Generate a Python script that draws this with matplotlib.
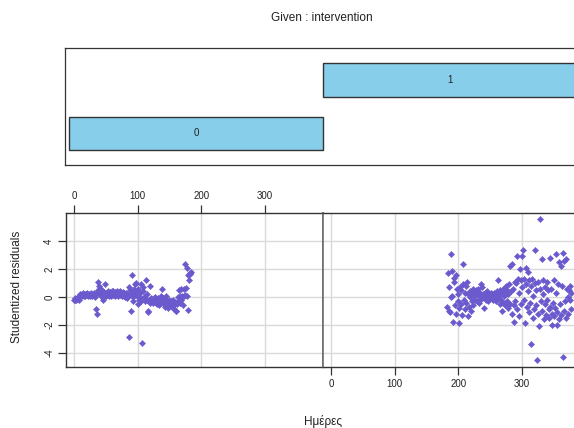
import numpy as np
import matplotlib.pyplot as plt
from matplotlib.patches import Rectangle

plt.rcParams['font.family'] = ['Liberation Sans', 'DejaVu Sans']

# residuals before the intervention (intervention = 0)
days_0 = list(range(0, 185))
resid_0 = [
    -0.2, -0.25, -0.1, -0.2, -0.05, -0.15, -0.1, 0.0, -0.2, 0.1, 0.2,
    0.15, 0.05, 0.2, 0.25, 0.1, 0.15, 0.2, 0.1, 0.2, 0.15, 0.25, 0.1, 0.2, 0.15,
    0.05, 0.2, 0.25, 0.15, 0.1, 0.2, 0.3, 0.15, 0.0, 0.2, -0.9, -1.2, 1.05, 0.5,
    0.8, 0.25, 0.4, 0.6, 0.1, 0.3, 0.0, -0.2, 0.35, 0.2, 0.95, 0.1, 0.3, 0.15,
    0.4, 0.2, 0.05, 0.35, 0.25, 0.1, 0.45, 0.3, 0.15, 0.4, 0.2, 0.35, 0.05, 0.3,
    0.45, 0.2, 0.1, 0.35, 0.25, 0.4, 0.15, 0.3, 0.05, 0.2, 0.35, 0.1, 0.25, 0.0,
    0.3, 0.15, -0.05, 0.2, 0.1, -2.9, 0.7, 0.5, 0.3, -1.0, 1.6, 0.0, -0.3, 0.6,
    0.2, 0.9, 1.0, 0.4, 0.1, -0.5, 0.6, -0.2, 0.3, 0.0, -0.3, 0.9, -3.3, 0.4,
    0.7, 0.0, -0.1, -0.3, 1.25, 0.2, -0.2, -1.0, -1.1, -0.2, -0.4, 0.8, -0.1,
    -0.3, -0.2, -0.4, -0.1, -0.3, -0.2, 0.0, -0.4, -0.2, -0.5, -0.1, -0.3, -0.6,
    -0.2, 0.1, -0.4, 0.6, -0.3, -0.1, -0.5, -0.2, -0.7, -0.4, 0.1, -0.3, -0.6,
    -0.8, -0.5, -0.2, -0.4, -0.6, -0.3, -0.7, -0.5, -0.2, -0.9, -0.6, -0.4, -1.0,
    -1.0, -0.5, -0.3, 0.0, 0.5, -0.4, 0.05, -0.2, 0.6, 0.1, -0.6, 0.0, 0.55,
    0.15, 2.4, 0.65, 0.1, 2.05, 1.6, -0.95, 1.2, 1.75, 1.65, 1.8,
]

# residuals after the intervention (intervention = 1)
days_1 = list(range(183, 379))
resid_1 = [
    -0.7, 1.7, -1.0, 0.7, -1.1, 0.0, 3.1, 0.1, 1.9, -1.8, 1.1, 1.35, -0.6, 1.6,
    -1.2, 0.6, -0.3, 0.2, -0.8, -1.9, 0.7, -0.5, 0.5, -1.3, 0.9, 2.4, -0.2, 0.3,
    -0.9, 0.8, -0.4, 1.1, -1.4, 0.2, -0.7, 0.0, 0.4, -1.0, 0.2, -0.3, 0.6, -0.6,
    0.1, 0.4, -0.2, 0.5, -0.3, 0.2, 0.6, -0.4, 0.1, 0.3, -0.2, 0.9, -0.1, 0.7,
    0.2, 0.0, -0.8, 0.3, 0.1, -0.2, 0.4, 0.0, -0.3, 0.2, 0.1, -0.1, 0.3, 0.0,
    0.2, -0.2, 0.1, 0.0, 0.3, -0.1, 0.2, -0.3, 0.4, 0.0, 1.2, 0.2, -0.5, 0.5,
    -0.2, 0.3, -1.0, 0.6, -0.4, 0.1, 0.4, -0.6, 0.8, -0.3, 0.5, -0.8, 0.2, 0.9,
    -0.5, 2.2, 0.4, -1.2, 2.4, 0.6, -0.6, -1.8, 1.1, -0.3, 1.0, 2.95, -0.9, 1.3,
    0.3, -1.4, 2.0, 1.2, -0.5, 2.95, 0.7, 3.4, -0.2, 1.3, -1.9, 0.9, 2.1, -0.7,
    1.8, 0.4, -1.1, 1.2, -0.4, 0.8, -3.4, 1.3, -1.5, 0.1, -0.9, 3.4, 1.0, -0.6,
    0.5, -4.55, -1.2, 1.1, -2.1, 0.6, 5.6, -0.3, 2.75, -1.0, 1.2, 0.2, -1.6, 0.7,
    -0.5, -1.3, 1.1, -0.2, 0.5, -0.9, -1.5, 2.8, -0.7, 0.6, -1.2, -2.0, -0.4,
    1.2, -1.4, -0.8, 0.3, 3.1, -1.1, -2.0, 0.9, 2.55, -1.6, -0.5, 2.2, -1.3, 0.8,
    -4.3, 3.15, -1.0, 2.6, -0.3, 2.7, -1.5, 0.6, 0.0, -1.2, 0.5, -0.2, 0.8, -0.9,
    0.3,
]

levels = ['0', '1']
x_ticks = [0, 100, 200, 300]
y_ticks = [-4, -2, 0, 2, 4]

W, H = 574, 428
fig = plt.figure(figsize=(W / 100, H / 100), dpi=100)
edge = '#333333'
txt = '#222222'
pt_col = '#6A5ACD'
grid_col = '#D9D9D9'


def px_axes(x0, y0, x1, y1):
    return fig.add_axes([x0 / W, 1 - y1 / H, (x1 - x0) / W, (y1 - y0) / H])


# conditioning panel
gax = px_axes(65, 48, 581, 165)
gax.set_xlim(-0.516, 1.516)
gax.set_ylim(-0.59, 1.6)
for i, lab in enumerate(levels):
    gax.add_patch(Rectangle((i - 0.5, i - 0.315), 1.0, 0.63, facecolor='#87CEEB',
                            edgecolor=edge, linewidth=1.0))
    gax.text(i, i, lab, ha='center', va='center', fontsize=7, color=txt)
gax.set_xticks([])
gax.set_yticks([])
for s in gax.spines.values():
    s.set_color(edge)
    s.set_linewidth(0.9)
fig.text(322 / W, 1 - 18 / H, 'Given : intervention', ha='center', va='center',
         fontsize=8.5, color=txt)

# residual panels
ax0 = px_axes(66, 213, 323, 367)
ax1 = px_axes(323, 213, 580, 367)
for ax, d, r in [(ax0, days_0, resid_0), (ax1, days_1, resid_1)]:
    ax.set_xlim(-12.6, 391.5)
    ax.set_ylim(-5.04, 6.04)
    for xv in x_ticks:
        ax.axvline(xv, color=grid_col, lw=1.0, zorder=0)
    for yv in y_ticks:
        ax.axhline(yv, color=grid_col, lw=1.0, zorder=0)
    ax.plot(d, r, linestyle='none', marker='D', markersize=3.2, color=pt_col,
            markeredgewidth=0.3, zorder=3)
    ax.set_xticks(x_ticks)
    ax.set_yticks(y_ticks)
    for s in ax.spines.values():
        s.set_color(edge)
        s.set_linewidth(1.0)
    ax.tick_params(colors=edge, labelcolor=txt, labelsize=7, length=5.5, width=0.9)

ax0.spines['right'].set_color('#6e6e6e')
ax0.spines['right'].set_linewidth(1.2)
ax1.spines['left'].set_color('#6e6e6e')
ax1.spines['left'].set_linewidth(1.2)
ax0.xaxis.tick_top()
ax0.tick_params(axis='x', pad=3)
ax0.set_yticklabels([str(v) for v in y_ticks], rotation=90, va='center')
ax0.tick_params(axis='y', pad=3)

ax1.tick_params(axis='y', left=False, labelleft=False)
ax1.tick_params(axis='x', pad=3)

fig.text(17 / W, 1 - 287 / H, 'Studentized residuals', rotation=90, ha='center',
         va='center', fontsize=8.5, color=txt)
fig.text(323 / W, 1 - 421 / H, 'Ημέρες', ha='center', va='center',
         fontsize=8.5, color=txt)

fig.savefig('out.png', dpi=100)
